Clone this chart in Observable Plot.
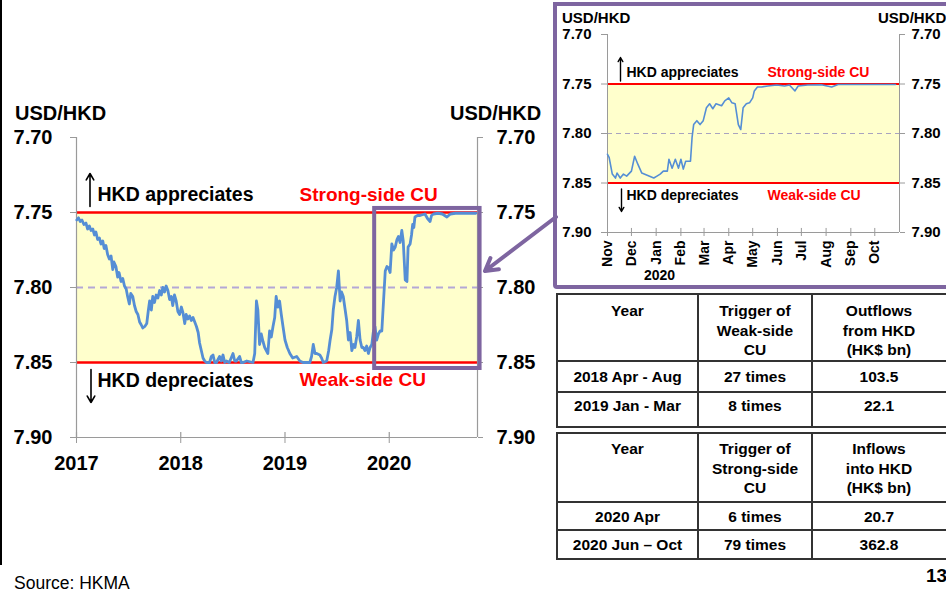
<!DOCTYPE html>
<html><head><meta charset="utf-8">
<script src="https://cdn.jsdelivr.net/npm/d3@7"></script>
<script src="https://cdn.jsdelivr.net/npm/@observablehq/plot@0.6"></script>
<style>
html,body{margin:0;padding:0;background:#fff;}
#page{position:relative;width:946px;height:596px;overflow:hidden;font-family:"Liberation Sans",Arial,sans-serif;background:#fff;color:#000;}
.abs{position:absolute;white-space:nowrap;line-height:1;}
.b{font-weight:bold;}
table.t{position:absolute;border-collapse:collapse;table-layout:fixed;width:397px;}
table.t td{border:2px solid #333;padding:0;text-align:center;vertical-align:top;font:bold 15.5px/19.5px "Liberation Sans",Arial,sans-serif;}
</style></head><body><div id="page"></div>
<script>
// ---------------- data ----------------
const mainDates = ["2017-01-02","2017-01-08","2017-01-14","2017-01-20","2017-01-27","2017-02-03","2017-02-09","2017-02-15","2017-02-21","2017-02-27","2017-03-05","2017-03-10","2017-03-16","2017-03-22","2017-03-28","2017-04-03","2017-04-08","2017-04-14","2017-04-20","2017-04-26","2017-05-02","2017-05-08","2017-05-12","2017-05-19","2017-05-25","2017-05-30","2017-06-06","2017-06-12","2017-06-18","2017-06-24","2017-06-29","2017-07-05","2017-07-10","2017-07-17","2017-07-23","2017-07-29","2017-08-04","2017-08-10","2017-08-16","2017-08-21","2017-08-28","2017-09-04","2017-09-09","2017-09-14","2017-09-20","2017-09-25","2017-10-01","2017-10-07","2017-10-13","2017-10-19","2017-10-25","2017-10-30","2017-11-05","2017-11-11","2017-11-17","2017-11-23","2017-11-29","2017-12-04","2017-12-10","2017-12-16","2017-12-22","2017-12-28","2018-01-03","2018-01-09","2018-01-15","2018-01-20","2018-01-26","2018-02-01","2018-02-07","2018-02-13","2018-02-19","2018-02-25","2018-03-03","2018-03-08","2018-03-14","2018-03-20","2018-03-26","2018-04-01","2018-04-12","2018-04-18","2018-04-24","2018-04-30","2018-05-06","2018-05-17","2018-05-23","2018-05-29","2018-06-04","2018-06-10","2018-06-20","2018-07-03","2018-07-09","2018-07-15","2018-07-26","2018-08-01","2018-08-07","2018-08-20","2018-09-11","2018-09-17","2018-09-23","2018-09-28","2018-10-04","2018-10-10","2018-10-16","2018-10-22","2018-11-02","2018-11-08","2018-11-14","2018-11-20","2018-11-26","2018-12-01","2018-12-07","2018-12-13","2018-12-19","2018-12-25","2019-01-01","2019-01-09","2019-01-18","2019-01-28","2019-02-11","2019-02-22","2019-03-05","2019-03-18","2019-03-29","2019-04-04","2019-04-10","2019-04-16","2019-04-22","2019-05-03","2019-05-09","2019-05-15","2019-05-27","2019-06-03","2019-06-08","2019-06-14","2019-06-19","2019-06-25","2019-07-01","2019-07-07","2019-07-13","2019-07-18","2019-07-24","2019-07-30","2019-08-05","2019-08-11","2019-08-17","2019-08-23","2019-08-29","2019-09-03","2019-09-09","2019-09-15","2019-09-21","2019-09-27","2019-10-02","2019-10-08","2019-10-14","2019-10-20","2019-10-26","2019-11-01","2019-11-06","2019-11-12","2019-11-18","2019-11-24","2019-11-30","2019-12-06","2019-12-12","2019-12-18","2019-12-24","2019-12-30","2020-01-04","2020-01-10","2020-01-16","2020-01-22","2020-01-28","2020-02-02","2020-02-08","2020-02-14","2020-02-19","2020-02-23","2020-02-26","2020-03-03","2020-03-07","2020-03-14","2020-03-19","2020-03-23","2020-03-27","2020-03-31","2020-04-09","2020-04-18","2020-04-26","2020-05-05","2020-05-14","2020-05-23","2020-05-28","2020-06-04","2020-06-20","2020-07-05","2020-07-21","2020-08-02","2020-08-20","2020-09-10","2020-10-01","2020-10-30"];
const mainValues = [7.755,7.7535,7.756,7.755,7.758,7.757,7.761,7.759,7.762,7.761,7.765,7.763,7.768,7.767,7.771,7.769,7.774,7.772,7.778,7.781,7.779,7.788,7.783,7.786,7.793,7.790,7.796,7.794,7.799,7.801,7.806,7.811,7.804,7.806,7.812,7.816,7.818,7.823,7.825,7.827,7.826,7.824,7.816,7.809,7.815,7.806,7.810,7.805,7.807,7.802,7.805,7.800,7.803,7.799,7.802,7.808,7.806,7.812,7.805,7.809,7.816,7.818,7.813,7.817,7.824,7.818,7.821,7.819,7.822,7.820,7.823,7.826,7.830,7.837,7.842,7.847,7.849,7.850,7.850,7.846,7.845,7.850,7.850,7.846,7.849,7.845,7.850,7.849,7.850,7.844,7.849,7.849,7.846,7.850,7.850,7.849,7.850,7.844,7.809,7.815,7.838,7.831,7.836,7.840,7.844,7.829,7.833,7.826,7.820,7.806,7.813,7.809,7.818,7.826,7.835,7.840,7.844,7.847,7.846,7.849,7.850,7.850,7.850,7.846,7.838,7.844,7.844,7.845,7.847,7.850,7.849,7.842,7.835,7.828,7.815,7.806,7.800,7.789,7.809,7.803,7.806,7.814,7.822,7.835,7.830,7.842,7.838,7.840,7.833,7.822,7.835,7.840,7.840,7.842,7.839,7.844,7.840,7.838,7.830,7.826,7.835,7.831,7.829,7.829,7.809,7.789,7.786,7.787,7.790,7.771,7.775,7.773,7.768,7.766,7.770,7.762,7.769,7.784,7.795,7.796,7.773,7.771,7.765,7.758,7.760,7.753,7.752,7.752,7.7515,7.751,7.754,7.756,7.752,7.751,7.7505,7.751,7.753,7.751,7.7505,7.7505,7.7505,7.7505];

const insetDates = ["2019-11-01","2019-11-03","2019-11-07","2019-11-11","2019-11-13","2019-11-17","2019-11-21","2019-11-25","2019-12-01","2019-12-05","2019-12-09","2019-12-14","2019-12-20","2019-12-29","2020-01-02","2020-01-06","2020-01-10","2020-01-15","2020-01-17","2020-01-21","2020-01-25","2020-01-29","2020-02-01","2020-02-04","2020-02-07","2020-02-13","2020-02-15","2020-02-17","2020-02-21","2020-02-25","2020-02-29","2020-03-04","2020-03-08","2020-03-12","2020-03-16","2020-03-23","2020-03-27","2020-04-01","2020-04-05","2020-04-09","2020-04-13","2020-04-16","2020-04-19","2020-04-23","2020-04-27","2020-05-01","2020-05-03","2020-05-07","2020-05-12","2020-05-20","2020-05-31","2020-06-10","2020-06-16","2020-06-23","2020-06-27","2020-07-09","2020-07-26","2020-08-08","2020-08-16","2020-09-15","2020-10-27"];
const insetValues = [7.821,7.824,7.841,7.845,7.840,7.845,7.841,7.843,7.838,7.823,7.831,7.840,7.842,7.845,7.843,7.841,7.838,7.838,7.826,7.835,7.826,7.835,7.826,7.836,7.828,7.828,7.804,7.791,7.787,7.791,7.787,7.774,7.770,7.775,7.770,7.772,7.767,7.764,7.769,7.770,7.791,7.796,7.774,7.770,7.769,7.764,7.757,7.753,7.753,7.752,7.751,7.752,7.751,7.757,7.752,7.751,7.7507,7.753,7.7505,7.7505,7.7505];

const yTicks = [7.70, 7.75, 7.80, 7.85, 7.90];
const yearTicks = ["2017-01-01","2018-01-01","2019-01-01","2020-01-01"];
const monthTicks = ["2019-11-01","2019-12-01","2020-01-01","2020-02-01","2020-03-01","2020-04-01","2020-05-01","2020-06-01","2020-07-01","2020-08-01","2020-09-01","2020-10-01"];
const strongSide = 7.75, weakSide = 7.85, midRate = 7.80;
const zoomWindow = {start: "2019-11-11", end: "2020-11-14", top: 7.7473, bottom: 7.854};

const table1Header = ["Year", "Trigger of<br>Weak-side<br>CU", "Outflows<br>from HKD<br>(HK$ bn)"];
const table1Years = ["2018 Apr - Aug", "2019 Jan - Mar"];
const table1Triggers = ["27 times", "8 times"];
const table1Flows = ["103.5", "22.1"];
const table2Header = ["Year", "Trigger of<br>Strong-side<br>CU", "Inflows<br>into HKD<br>(HK$ bn)"];
const table2Years = ["2020 Apr", "2020 Jun \u2013 Oct"];
const table2Triggers = ["6 times", "79 times"];
const table2Flows = ["20.7", "362.8"];

// ---------------- styles ----------------
const FONT = '"Liberation Sans", Arial, sans-serif';
const BLUE = "#558ED5", RED = "#FF0000", PURPLE = "#7E65A0", AX = "#9a9a9a", BAND = "#FFFFCC";

const page = document.getElementById("page");
function addText(txt, left, top, size, bold, color) {
  const d = document.createElement("div");
  d.className = "abs" + (bold ? " b" : "");
  d.style.left = left + "px"; d.style.top = top + "px";
  d.style.fontSize = size + "px"; if (color) d.style.color = color;
  d.textContent = txt; page.appendChild(d); return d;
}

// ---------------- main chart ----------------
const mainData = mainDates.map((d, i) => ({date: new Date(d), value: mainValues[i]}));
const mainDomain = [new Date("2017-01-01"), new Date("2020-11-05")];
const mainBand = [{x1: mainDomain[0], x2: mainDomain[1], y1: strongSide, y2: weakSide}];
const yearDates = yearTicks.map(d => new Date(d));
const box = [{x1: new Date(zoomWindow.start), x2: new Date(zoomWindow.end), y1: zoomWindow.top, y2: zoomWindow.bottom}];

const main = Plot.plot({
  width: 550, height: 380, marginLeft: 76, marginRight: 73, marginTop: 37, marginBottom: 43,
  style: {fontFamily: FONT, fontWeight: "bold", fontSize: "20px", color: "black", background: "transparent", overflow: "visible"},
  x: {type: "utc", domain: mainDomain},
  y: {domain: [7.70, 7.90], reverse: true},
  marks: [
    Plot.rect(mainBand, {x1: "x1", x2: "x2", y1: "y1", y2: "y2", fill: BAND}),
    Plot.ruleY([midRate], {stroke: "#B4A7D6", strokeWidth: 2, strokeDasharray: "7,5"}),
    Plot.ruleY([strongSide, weakSide], {stroke: RED, strokeWidth: 2.5}),
    Plot.ruleX(mainDomain, {stroke: AX, strokeWidth: 1.2}),
    Plot.ruleY([7.90], {stroke: AX, strokeWidth: 1.2}),
    Plot.axisY({anchor: "left", ticks: yTicks, tickFormat: d3.format(".2f"), tickSize: 6, tickPadding: 18, stroke: AX, fill: "black", label: null}),
    Plot.axisY({anchor: "right", ticks: yTicks, tickFormat: d3.format(".2f"), tickSize: 5, tickPadding: 14, stroke: AX, fill: "black", label: null}),
    Plot.axisX({ticks: yearDates, tickFormat: d3.utcFormat("%Y"), tickSize: 6, tickPadding: 12, stroke: AX, fill: "black", label: null}),
    Plot.ruleX(yearDates, {y1: 7.8967, y2: 7.90, stroke: AX, strokeWidth: 1.2}),
    Plot.line(mainData, {x: "date", y: "value", stroke: BLUE, strokeWidth: 2.8, strokeLinejoin: "round"}),
    Plot.rect(box, {x1: "x1", x2: "x2", y1: "y1", y2: "y2", fill: "none", stroke: PURPLE, strokeWidth: 4}),
    Plot.text(["HKD appreciates"], {y: () => strongSide, frameAnchor: "left", textAnchor: "start", dx: 21, dy: -18, fontSize: 19.5, fill: "black"}),
    Plot.text(["HKD depreciates"], {y: () => weakSide, frameAnchor: "left", textAnchor: "start", dx: 21, dy: 18, fontSize: 19.5, fill: "black"}),
    Plot.text(["Strong-side CU"], {y: () => strongSide, frameAnchor: "left", textAnchor: "start", dx: 223, dy: -18, fontSize: 19, fill: RED}),
    Plot.text(["Weak-side CU"], {y: () => weakSide, frameAnchor: "left", textAnchor: "start", dx: 223, dy: 17, fontSize: 19, fill: RED}),
    Plot.arrow([0], {x1: () => mainDomain[0], x2: () => mainDomain[0], y1: () => strongSide, y2: () => 7.70, insetStart: 6, insetEnd: 36, dx: 13.5, headLength: 7, strokeWidth: 1.6, stroke: "black"}),
    Plot.arrow([0], {x1: () => mainDomain[0], x2: () => mainDomain[0], y1: () => weakSide, y2: () => 7.90, insetStart: 7, insetEnd: 35, dx: 14.5, headLength: 7, strokeWidth: 1.6, stroke: "black"})
  ]
});
main.style.position = "absolute"; main.style.left = "0px"; main.style.top = "100px";
page.appendChild(main);

// ---------------- inset chart ----------------
const insetData = insetDates.map((d, i) => ({date: new Date(d), value: insetValues[i]}));
const insetDomain = [new Date("2019-11-01"), new Date("2020-11-01")];
const insetBand = [{x1: insetDomain[0], x2: insetDomain[1], y1: strongSide, y2: weakSide}];
const monthDates = monthTicks.map(d => new Date(d));

const inset = Plot.plot({
  width: 389, height: 288, marginLeft: 50, marginRight: 47, marginTop: 34, marginBottom: 56,
  style: {fontFamily: FONT, fontWeight: "bold", fontSize: "15px", color: "black", background: "transparent", overflow: "visible"},
  x: {type: "utc", domain: insetDomain},
  y: {domain: [7.70, 7.90], reverse: true},
  marks: [
    Plot.rect(insetBand, {x1: "x1", x2: "x2", y1: "y1", y2: "y2", fill: BAND}),
    Plot.ruleY([midRate], {stroke: "#A9A3BF", strokeWidth: 1, strokeDasharray: "5,4"}),
    Plot.ruleY([strongSide, weakSide], {stroke: RED, strokeWidth: 2}),
    Plot.ruleX(insetDomain, {stroke: AX, strokeWidth: 1}),
    Plot.ruleY([7.90], {stroke: AX, strokeWidth: 1}),
    Plot.axisY({anchor: "left", ticks: yTicks, tickFormat: d3.format(".2f"), tickSize: 6, tickPadding: 10, stroke: AX, fill: "black", label: null}),
    Plot.axisY({anchor: "right", ticks: yTicks, tickFormat: d3.format(".2f"), tickSize: 5, tickPadding: 7, stroke: AX, fill: "black", label: null}),
    Plot.axisX({ticks: monthDates, tickFormat: d3.utcFormat("%b"), tickRotate: -90, tickSize: 4, tickPadding: 4, stroke: AX, fill: "black", fontSize: 14, label: null}),
    Plot.ruleX(monthDates, {y1: 7.8959, y2: 7.90, stroke: AX}),
    Plot.line(insetData, {x: "date", y: "value", stroke: BLUE, strokeWidth: 1.6}),
    Plot.text(["HKD appreciates"], {y: () => strongSide, frameAnchor: "left", textAnchor: "start", dx: 19, dy: -11, fontSize: 14, fill: "black"}),
    Plot.text(["HKD depreciates"], {y: () => weakSide, frameAnchor: "left", textAnchor: "start", dx: 19, dy: 13, fontSize: 14, fill: "black"}),
    Plot.text(["Strong-side CU"], {y: () => strongSide, frameAnchor: "left", textAnchor: "start", dx: 160, dy: -11, fontSize: 14, fill: RED}),
    Plot.text(["Weak-side CU"], {y: () => weakSide, frameAnchor: "left", textAnchor: "start", dx: 160, dy: 13, fontSize: 14, fill: RED}),
    Plot.arrow([0], {x1: () => insetDomain[0], x2: () => insetDomain[0], y1: () => strongSide, y2: () => 7.70, insetStart: 3, insetEnd: 23, dx: 13, headLength: 5, strokeWidth: 1.4, stroke: "black"}),
    Plot.arrow([0], {x1: () => insetDomain[0], x2: () => insetDomain[0], y1: () => weakSide, y2: () => 7.90, insetStart: 6, insetEnd: 21, dx: 14, headLength: 5, strokeWidth: 1.4, stroke: "black"})
  ]
});
inset.style.position = "absolute"; inset.style.left = "557px"; inset.style.top = "0px";
page.appendChild(inset);

// inset frame
const frame = document.createElement("div");
Object.assign(frame.style, {position: "absolute", left: "553px", top: "2px", width: "420px", height: "287px", border: "4px solid " + PURPLE, boxSizing: "border-box", borderRadius: "0 0 0 4px"});
page.appendChild(frame);

// ---------------- titles ----------------
addText("USD/HKD", 15, 103, 20, true);
addText("USD/HKD", 450, 103, 20, true);
addText("USD/HKD", 562, 10, 15, true);
addText("USD/HKD", 878, 10, 15, true);
addText("2020", 644, 268, 14, true);
addText("Source: HKMA", 14, 575, 17.5, false);
addText("13", 926, 566, 19, true);

// ---------------- tables ----------------
function makeTable(top, header, years, triggers, flows, rowH, pads) {
  const t = document.createElement("table");
  t.className = "t"; t.style.left = "556px"; t.style.top = top + "px";
  const cg = document.createElement("colgroup");
  [141, 114, 142].forEach(w => { const c = document.createElement("col"); c.style.width = w + "px"; cg.appendChild(c); });
  t.appendChild(cg);
  const rows = [header].concat(years.map((y, i) => [y, triggers[i], flows[i]]));
  rows.forEach((r, ri) => {
    const tr = document.createElement("tr");
    tr.style.height = rowH[ri] + "px";
    r.forEach((c, ci) => {
      const td = document.createElement("td"); td.innerHTML = c; td.style.paddingTop = pads[ri] + "px";
      if (ci === 2) td.style.paddingRight = "8px";
      tr.appendChild(td);
    });
    t.appendChild(tr);
  });
  page.appendChild(t);
}
makeTable(293, table1Header, table1Years, table1Triggers, table1Flows, [67, 31, 35], [6, 5, 3]);
makeTable(432, table2Header, table2Years, table2Triggers, table2Flows, [69, 28, 29], [5, 4, 4]);

// ---------------- page edge & connector ----------------
const edge = document.createElement("div");
Object.assign(edge.style, {position: "absolute", left: "0px", top: "0px", width: "2px", height: "565px", background: "#000"});
page.appendChild(edge);

const ov = d3.select(page).append("svg").attr("width", 946).attr("height", 596)
  .style("position", "absolute").style("left", "0px").style("top", "0px").style("pointer-events", "none");
const p0 = [556, 217], p1 = [485, 271];
const ang = Math.atan2(p1[1] - p0[1], p1[0] - p0[0]);
const hl = 14, ha = Math.PI / 6;
const a1 = [p1[0] - hl * Math.cos(ang - ha), p1[1] - hl * Math.sin(ang - ha)];
const a2 = [p1[0] - hl * Math.cos(ang + ha), p1[1] - hl * Math.sin(ang + ha)];
ov.append("path").attr("d", `M${p0}L${p1}M${a1}L${p1}L${a2}`)
  .attr("fill", "none").attr("stroke", PURPLE).attr("stroke-width", 4).attr("stroke-linecap", "round").attr("stroke-linejoin", "round");
</script>
</body></html>
